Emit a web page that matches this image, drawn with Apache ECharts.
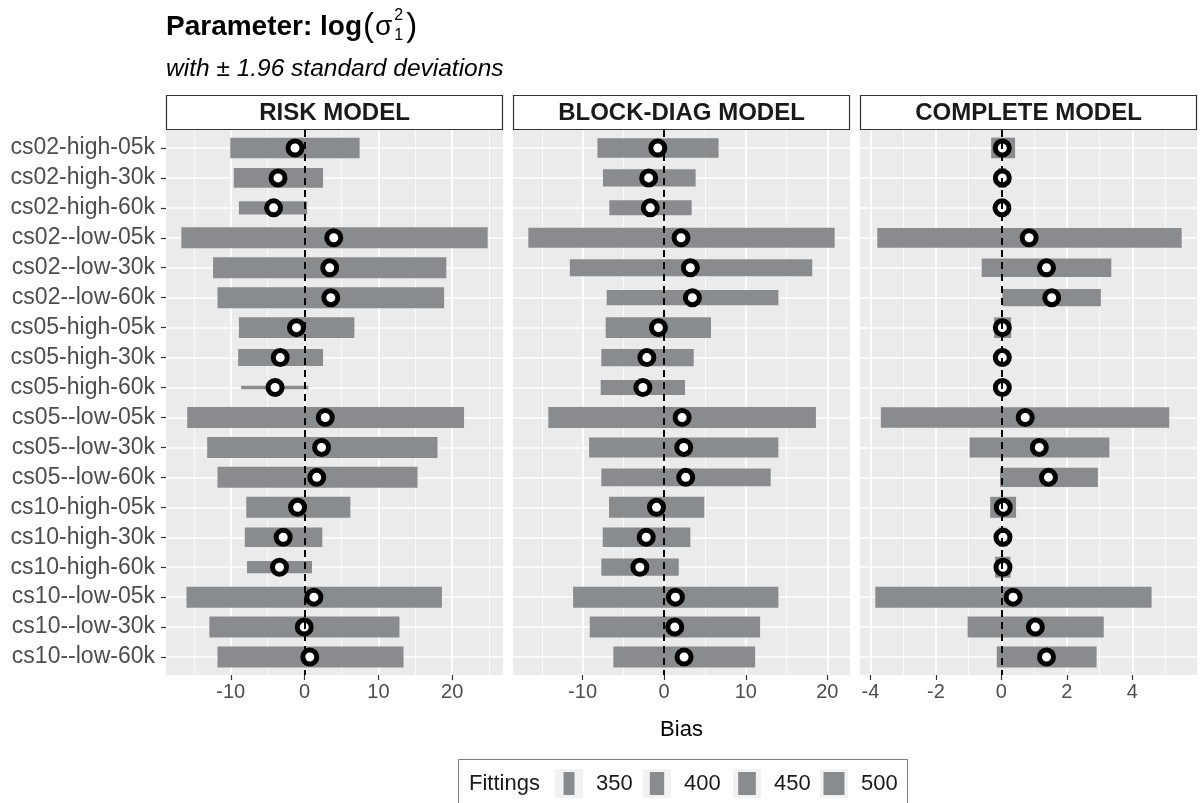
<!DOCTYPE html>
<html><head><meta charset="utf-8">
<script src="https://cdn.jsdelivr.net/npm/echarts@6.0.0/dist/echarts.min.js"></script>
<style>html,body{margin:0;padding:0;background:#fff}#chart{width:1200px;height:803px}</style>
</head><body><div id="chart"></div>
<script>
// ---------------- data ----------------
const categories = ['cs02-high-05k','cs02-high-30k','cs02-high-60k','cs02--low-05k','cs02--low-30k','cs02--low-60k',
  'cs05-high-05k','cs05-high-30k','cs05-high-60k','cs05--low-05k','cs05--low-30k','cs05--low-60k',
  'cs10-high-05k','cs10-high-30k','cs10-high-60k','cs10--low-05k','cs10--low-30k','cs10--low-60k'];
const panelNames = ['RISK MODEL','BLOCK-DIAG MODEL','COMPLETE MODEL'];

const riskLow  = [-10.07,-9.6,-8.9,-16.7,-12.4,-11.8,-8.9,-9.0,-8.6,-15.9,-13.2,-11.8,-7.9,-8.1,-7.8,-16.0,-12.9,-11.8];
const riskHigh = [7.45,2.5,0.35,24.8,19.2,18.9,6.74,2.5,0.5,21.6,18.0,15.3,6.2,2.4,1.0,18.6,12.85,13.4];
const riskMean = [-1.3,-3.6,-4.2,3.95,3.4,3.55,-1.1,-3.3,-4.0,2.8,2.3,1.65,-0.95,-2.9,-3.4,1.26,-0.05,0.7];
const riskFit  = [490,480,385,500,500,500,495,440,235,500,500,500,500,475,370,500,500,500];

const blockLow  = [-8.18,-7.5,-6.72,-16.65,-11.56,-7.05,-7.17,-7.7,-7.78,-14.2,-9.2,-7.7,-6.76,-7.53,-7.7,-11.16,-9.12,-6.23];
const blockHigh = [6.67,3.86,3.37,20.9,18.15,14.0,5.74,3.62,2.56,18.6,14.0,13.06,4.92,3.21,1.79,14.0,11.76,11.15];
const blockMean = [-0.78,-1.9,-1.7,2.07,3.21,3.46,-0.7,-2.12,-2.61,2.2,2.4,2.64,-0.94,-2.2,-2.98,1.38,1.3,2.44];
const blockFit  = [480,445,410,485,440,415,495,445,410,500,485,450,500,475,445,500,500,500];

const compLow  = [-0.31,-0.1,-0.1,-3.79,-0.6,0.03,-0.22,-0.1,-0.1,-3.68,-0.97,-0.04,-0.34,-0.08,-0.19,-3.85,-1.03,-0.14];
const compHigh = [0.42,0.15,0.15,5.51,3.36,3.04,0.3,0.15,0.15,5.13,3.3,2.95,0.45,0.18,0.28,4.59,3.13,2.91];
const compMean = [0.03,0.03,0.02,0.85,1.38,1.54,0.03,0.03,0.03,0.73,1.16,1.44,0.06,0.05,0.05,0.36,1.04,1.38];
const compFit  = [495,480,410,480,460,445,495,445,410,495,485,475,500,475,500,500,500,500];

const majorTicks = [[-10,0,10,20],[-10,0,10,20],[-4,-2,0,2,4]];
const minorTicks = [[-15,-5,5,15,25],[-15,-5,5,15],[-3,-1,1,3,5]];
const legendValues = [350,400,450,500];

// ---------------- styling / layout ----------------
const FONT = "'Liberation Sans', Arial, Helvetica, sans-serif";
const BAR = '#898C8E';
const PANEL_BG = '#EBEBEB';
const PANEL_LEFT = [166, 513, 860];
const PANEL_W = 337;
const PANEL_TOP = 130;
const PANEL_H = 545;
function widthFor(f) { return Math.max(2.5, 11 + (f - 350) / 15); }

const panels = [
  {lo: riskLow, hi: riskHigh, mean: riskMean, fit: riskFit},
  {lo: blockLow, hi: blockHigh, mean: blockMean, fit: blockFit},
  {lo: compLow, hi: compHigh, mean: compMean, fit: compFit}
];
function extent(lo, hi) {
  const mn = Math.min(...lo), mx = Math.max(...hi), r = mx - mn;
  return [mn - 0.05 * r, mx + 0.05 * r];
}
const idx = categories.map((_, i) => i);

const grid = [], xAxis = [], yAxis = [], series = [];
panels.forEach((p, k) => {
  const [mn, mx] = extent(p.lo, p.hi);
  grid.push({left: PANEL_LEFT[k], top: PANEL_TOP, width: PANEL_W, height: PANEL_H,
    show: true, backgroundColor: PANEL_BG, borderWidth: 0, containLabel: false});
  xAxis.push({gridIndex: k, type: 'value', min: mn, max: mx, position: 'bottom',
    axisLine: {show: false, onZero: false},
    axisTick: {show: true, length: 5, lineStyle: {color: '#333', width: 1.2}, customValues: majorTicks[k]},
    axisLabel: {show: true, customValues: majorTicks[k], color: '#4D4D4D', fontSize: 20, fontFamily: FONT, margin: 7},
    splitLine: {show: true, lineStyle: {color: '#fff', width: 1.7}}
  });
  xAxis.push({gridIndex: k, type: 'value', min: mn, max: mx, position: 'top',
    axisLine: {show: false, onZero: false},
    axisTick: {show: false, customValues: minorTicks[k]},
    axisLabel: {show: false, customValues: minorTicks[k]},
    splitLine: {show: true, lineStyle: {color: '#fff', width: 0.8}}
  });
  yAxis.push({gridIndex: k, type: 'value', min: -0.6, max: 17.6, inverse: true, position: 'left',
    axisLine: {show: false, onZero: false},
    axisTick: {show: k === 0, length: 5, lineStyle: {color: '#333', width: 1.2}, customValues: idx},
    axisLabel: {show: k === 0, customValues: idx, color: '#4D4D4D', fontSize: 23, fontFamily: FONT, margin: 11,
      formatter: v => categories[Math.round(v)] || ''},
    splitLine: {show: true, lineStyle: {color: '#fff', width: 1.7}}
  });
  series.push({
    type: 'custom', xAxisIndex: 2 * k, yAxisIndex: k, z: 2,
    data: idx.map(i => [p.lo[i], p.hi[i], i, p.fit[i]]),
    encode: {x: [0, 1], y: 2},
    renderItem: function (params, api) {
      const a = api.coord([api.value(0), api.value(2)]);
      const b = api.coord([api.value(1), api.value(2)]);
      const h = widthFor(api.value(3));
      return {type: 'rect', shape: {x: a[0], y: a[1] - h / 2, width: b[0] - a[0], height: h},
        style: {fill: BAR}};
    }
  });
  series.push({
    type: 'scatter', xAxisIndex: 2 * k, yAxisIndex: k, z: 3,
    data: idx.map(i => [p.mean[i], i]),
    symbol: 'circle', symbolSize: 14,
    itemStyle: {color: '#fff', borderColor: '#000', borderWidth: 5, opacity: 1},
    markLine: {silent: true, symbol: ['none', 'none'], label: {show: false},
      lineStyle: {color: '#000', width: 2, type: [7, 5]}, data: [{xAxis: 0}], animation: false}
  });
});

// ---------------- graphics: title, strips, axis title, legend ----------------
const ctx = document.createElement('canvas').getContext('2d');
function tw(text, font) { ctx.font = font; return ctx.measureText(text).width; }
const graphic = [];
function addText(x, y, text, font, fill, align) {
  graphic.push({type: 'text', x: x, y: y, silent: true, z: 10,
    style: {text: text, font: font, fill: fill || '#000', align: align || 'left', verticalAlign: 'middle'}});
}
const tFontB = 'bold 28px ' + FONT;
const tFontR = '28px ' + FONT;
const pFont = '33px ' + FONT;
const sFont = '16px ' + FONT;
let tx = 166;
addText(tx, 27, 'Parameter: log', tFontB);
tx += tw('Parameter: log', tFontB) + 1;
addText(tx, 26.5, '(', pFont);
tx += tw('(', pFont) + 1;
addText(tx, 27.5, 'σ', tFontR);
tx += tw('σ', tFontR) + 2;
addText(tx, 16, '2', sFont);
addText(tx, 35.5, '1', sFont);
tx += tw('2', sFont) + 3;
addText(tx, 26.5, ')', pFont);

addText(166, 69, 'with ± 1.96 standard deviations', 'italic 24.5px ' + FONT, '#000');

panelNames.forEach((name, k) => {
  graphic.push({type: 'rect', silent: true, z: 10,
    shape: {x: PANEL_LEFT[k] + 0.5, y: 95.5, width: PANEL_W - 1, height: 34},
    style: {fill: '#fff', stroke: '#333', lineWidth: 1.2}});
  addText(PANEL_LEFT[k] + PANEL_W / 2, 113, name, 'bold 24px ' + FONT, '#1A1A1A', 'center');
});

addText(PANEL_LEFT[1] + PANEL_W / 2, 730, 'Bias', '22px ' + FONT, '#000', 'center');

// legend
graphic.push({type: 'rect', silent: true, z: 10,
  shape: {x: 458.5, y: 759.5, width: 449, height: 60},
  style: {fill: '#fff', stroke: '#7F7F7F', lineWidth: 1}});
addText(469, 784, 'Fittings', '22px ' + FONT, '#1A1A1A');
const keyX = [555, 643, 733, 820];
legendValues.forEach((v, j) => {
  graphic.push({type: 'rect', silent: true, z: 10,
    shape: {x: keyX[j], y: 769, width: 28, height: 29}, style: {fill: '#F2F2F2'}});
  const w = widthFor(v);
  graphic.push({type: 'rect', silent: true, z: 11,
    shape: {x: keyX[j] + 14 - w / 2, y: 772, width: w, height: 23}, style: {fill: BAR}});
  addText(keyX[j] + 41, 784, String(v), '22px ' + FONT, '#1A1A1A');
});

const chart = echarts.init(document.getElementById('chart'), null, {renderer: 'canvas'});
chart.setOption({
  animation: false,
  backgroundColor: '#fff',
  grid: grid, xAxis: xAxis, yAxis: yAxis, series: series, graphic: graphic
});
</script></body></html>
